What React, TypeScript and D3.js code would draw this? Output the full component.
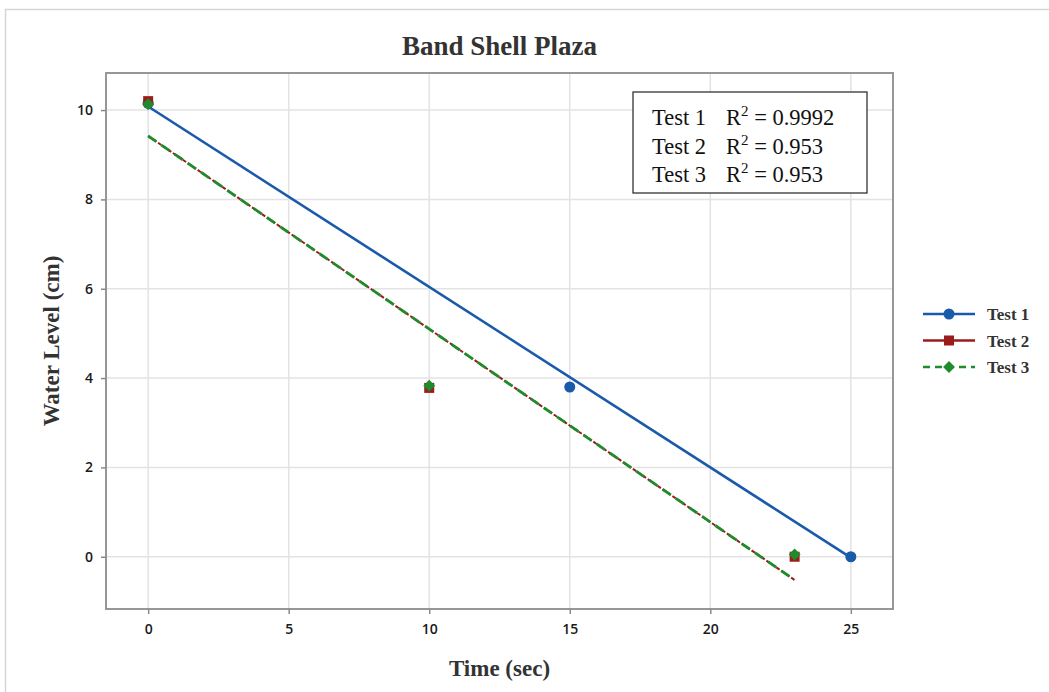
import React, { useEffect, useRef } from "react";
import * as d3 from "d3";

// observed points
const test1Points = [
  { t: 0, level: 10.15 },
  { t: 15, level: 3.8 },
  { t: 25, level: 0 },
];
const test2Points = [
  { t: 0, level: 10.2 },
  { t: 10, level: 3.78 },
  { t: 23, level: 0.0 },
];
const test3Points = [
  { t: 0, level: 10.13 },
  { t: 10, level: 3.83 },
  { t: 23, level: 0.05 },
];

// fitted lines (end points)
const test1Fit = [
  { t: 0, level: 10.08 },
  { t: 25, level: -0.02 },
];
const test2Fit = [
  { t: 0, level: 9.42 },
  { t: 23, level: -0.52 },
];
const test3Fit = [
  { t: 0, level: 9.42 },
  { t: 23, level: -0.52 },
];

const xTicks = [0, 5, 10, 15, 20, 25];
const yTicks = [0, 2, 4, 6, 8, 10];
const seriesNames = ["Test 1", "Test 2", "Test 3"];
const rSquared = ["0.9992", "0.953", "0.953"];

const BLUE = "#1a5aaa";
const RED = "#9c1b1b";
const GREEN = "#1f8b2b";

const App = () => {
  const ref = useRef<SVGSVGElement>(null);

  useEffect(() => {
    const width = 1049;
    const height = 692;
    const margin = { top: 73, right: 156, bottom: 83, left: 106 };
    const w = width - margin.left - margin.right;
    const h = height - margin.top - margin.bottom;

    const svg = d3.select(ref.current);
    svg.selectAll("*").remove();

    // outer frame
    svg
      .append("path")
      .attr("d", `M5.5,${height} V9.5 H${width}`)
      .attr("fill", "none")
      .attr("stroke", "#d6d6d6")
      .attr("stroke-width", 1.5);

    const x = d3.scaleLinear().domain([-1.5, 26.5]).range([0, w]);
    const y = d3.scaleLinear().domain([-1.17, 10.83]).range([h, 0]);

    const g = svg
      .append("g")
      .attr("transform", `translate(${margin.left},${margin.top})`);

    // grid
    g.selectAll(".vgrid")
      .data(xTicks)
      .enter()
      .append("line")
      .attr("x1", (d) => x(d))
      .attr("x2", (d) => x(d))
      .attr("y1", 0)
      .attr("y2", h)
      .attr("stroke", "#e3e3e3")
      .attr("stroke-width", 1.5);
    g.selectAll(".hgrid")
      .data(yTicks)
      .enter()
      .append("line")
      .attr("x1", 0)
      .attr("x2", w)
      .attr("y1", (d) => y(d))
      .attr("y2", (d) => y(d))
      .attr("stroke", "#e3e3e3")
      .attr("stroke-width", 1.5);

    // axes
    const xAxis = g
      .append("g")
      .attr("transform", `translate(0,${h})`)
      .call(d3.axisBottom(x).tickValues(xTicks).tickSize(5).tickPadding(10).tickSizeOuter(0));
    const yAxis = g
      .append("g")
      .call(d3.axisLeft(y).tickValues(yTicks).tickSize(5).tickPadding(8).tickSizeOuter(0));
    [xAxis, yAxis].forEach((a) => {
      a.select(".domain").remove();
      a.selectAll("line").attr("stroke", "#8a8a8a").attr("stroke-width", 1.5);
      a.selectAll("text")
        .attr("fill", "#1a1a1a")
        .style("font-family", "'Open Sans', sans-serif")
        .style("font-weight", "600")
        .style("font-size", "14px");
    });

    // plot border
    g.append("rect")
      .attr("width", w)
      .attr("height", h)
      .attr("fill", "none")
      .attr("stroke", "#8c8c8c")
      .attr("stroke-width", 1.8);

    const line = d3
      .line<{ t: number; level: number }>()
      .x((d) => x(d.t))
      .y((d) => y(d.level));

    g.append("path")
      .attr("d", line(test1Fit))
      .attr("fill", "none")
      .attr("stroke", BLUE)
      .attr("stroke-width", 2.6);
    g.append("path")
      .attr("d", line(test2Fit))
      .attr("fill", "none")
      .attr("stroke", RED)
      .attr("stroke-width", 2)
      .attr("stroke-dasharray", "4,2");
    g.append("path")
      .attr("d", line(test3Fit))
      .attr("fill", "none")
      .attr("stroke", GREEN)
      .attr("stroke-width", 2.8)
      .attr("stroke-dasharray", "10,6");

    // markers
    g.selectAll(".p1")
      .data(test1Points)
      .enter()
      .append("circle")
      .attr("cx", (d) => x(d.t))
      .attr("cy", (d) => y(d.level))
      .attr("r", 5.5)
      .attr("fill", BLUE);
    g.selectAll(".p2")
      .data(test2Points)
      .enter()
      .append("rect")
      .attr("x", (d) => x(d.t) - 5)
      .attr("y", (d) => y(d.level) - 5)
      .attr("width", 10)
      .attr("height", 10)
      .attr("fill", RED);
    g.selectAll(".p3")
      .data(test3Points)
      .enter()
      .append("path")
      .attr("d", d3.symbol(d3.symbolDiamond2, 90)())
      .attr("transform", (d) => `translate(${x(d.t)},${y(d.level)})`)
      .attr("fill", GREEN);

    // R² box
    const box = svg.append("g").attr("transform", "translate(633,92)");
    box
      .append("rect")
      .attr("width", 234)
      .attr("height", 101)
      .attr("fill", "#fff")
      .attr("stroke", "#222")
      .attr("stroke-width", 1.2);
    seriesNames.forEach((name, i) => {
      const t = box
        .append("text")
        .attr("y", 33 + i * 28.5)
        .attr("fill", "#111")
        .style("font-family", "'Liberation Serif', serif")
        .style("font-size", "22.5px");
      t.append("tspan").attr("x", 19).text(name);
      t.append("tspan").attr("x", 93).text("R");
      t.append("tspan").text("2").attr("dy", -9).style("font-size", "15px");
      t.append("tspan").text(` = ${rSquared[i]}`).attr("dy", 9);
    });

    // legend
    const legendColors = [BLUE, RED, GREEN];
    const legend = svg.append("g").attr("transform", "translate(923,314)");
    seriesNames.forEach((name, i) => {
      const row = legend.append("g").attr("transform", `translate(0,${i * 26.5})`);
      row
        .append("line")
        .attr("x1", 0)
        .attr("x2", 52)
        .attr("stroke", legendColors[i])
        .attr("stroke-width", 2.6)
        .attr("stroke-dasharray", i === 2 ? "7,5" : null);
      if (i === 0) row.append("circle").attr("cx", 26).attr("r", 5.5).attr("fill", BLUE);
      if (i === 1)
        row.append("rect").attr("x", 21).attr("y", -5).attr("width", 10).attr("height", 10).attr("fill", RED);
      if (i === 2)
        row
          .append("path")
          .attr("d", d3.symbol(d3.symbolDiamond2, 90)())
          .attr("transform", "translate(26,0)")
          .attr("fill", GREEN);
      row
        .append("text")
        .attr("x", 64)
        .attr("y", 6)
        .attr("fill", "#333")
        .style("font-family", "'Liberation Serif', serif")
        .style("font-weight", "bold")
        .style("font-size", "17px")
        .text(name);
    });

    // titles
    svg
      .append("text")
      .attr("x", margin.left + w / 2)
      .attr("y", 55)
      .attr("text-anchor", "middle")
      .attr("fill", "#333")
      .style("font-family", "'Liberation Serif', serif")
      .style("font-weight", "bold")
      .style("font-size", "27px")
      .text("Band Shell Plaza");
    svg
      .append("text")
      .attr("x", margin.left + w / 2)
      .attr("y", 676)
      .attr("text-anchor", "middle")
      .attr("fill", "#333")
      .style("font-family", "'Liberation Serif', serif")
      .style("font-weight", "bold")
      .style("font-size", "23px")
      .text("Time (sec)");
    svg
      .append("text")
      .attr("transform", `translate(59,${341}) rotate(-90)`)
      .attr("text-anchor", "middle")
      .attr("fill", "#333")
      .style("font-family", "'Liberation Serif', serif")
      .style("font-weight", "bold")
      .style("font-size", "23px")
      .text("Water Level (cm)");
  }, []);

  return (
    <svg
      ref={ref}
      width={1049}
      height={692}
      style={{ position: "absolute", left: 0, top: 0, background: "#fff" }}
    />
  );
};

export default App;
